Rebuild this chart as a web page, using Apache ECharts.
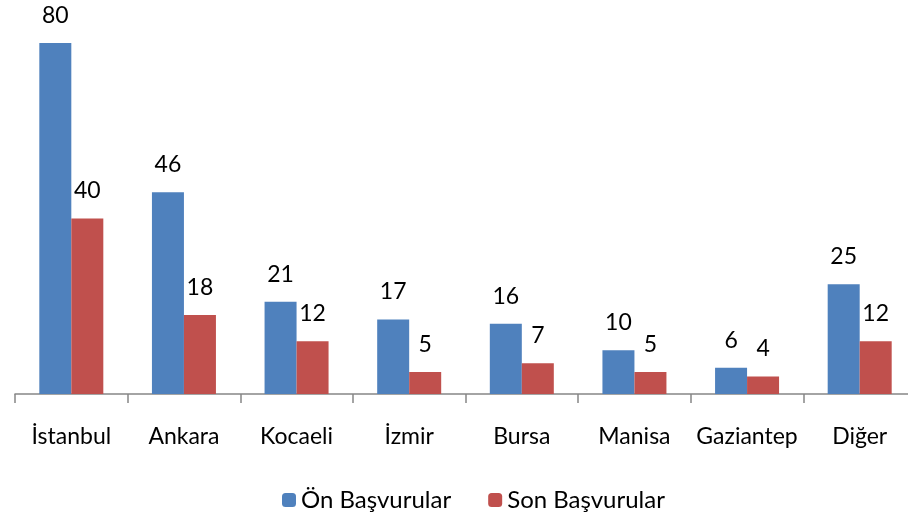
<!DOCTYPE html>
<html>
<head>
<meta charset="utf-8">
<script src="https://cdn.jsdelivr.net/npm/echarts@6/dist/echarts.min.js"></script>
<style>
  html, body { margin: 0; padding: 0; background: #fff; }
  #chart { width: 908px; height: 522px; }
</style>
</head>
<body>
<div id="chart"></div>
<script>
const cities = ['İstanbul', 'Ankara', 'Kocaeli', 'İzmir', 'Bursa', 'Manisa', 'Gaziantep', 'Diğer'];
const onBasvuru = [80, 46, 21, 17, 16, 10, 6, 25];
const sonBasvuru = [40, 18, 12, 5, 7, 5, 4, 12];

const chart = echarts.init(document.getElementById('chart'));
const font = 'Lato, "Open Sans", sans-serif';

const labelStyle = {
    show: true,
    position: 'top',
    distance: 16,
    color: '#000',
    fontSize: 23,
    fontFamily: font
};

chart.setOption({
    animation: false,
    grid: { left: 15, top: 43, width: 901, height: 351, outerBoundsMode: 'none' },
    legend: {
        bottom: 5,
        left: 277,
        itemWidth: 14,
        itemHeight: 14,
        itemGap: 37,
        textStyle: { fontSize: 24, fontFamily: font, color: '#000' },
        data: ['Ön Başvurular', 'Son Başvurular']
    },
    xAxis: {
        type: 'category',
        data: cities,
        axisLine: { show: true, lineStyle: { color: '#868686', width: 1.5 } },
        axisTick: { show: true, interval: 0, length: 9, lineStyle: { color: '#868686', width: 1.5 } },
        axisLabel: { interval: 0, margin: 31, fontSize: 23, fontFamily: font, color: '#000' }
    },
    yAxis: {
        type: 'value',
        min: 0,
        max: 80,
        show: false
    },
    series: [
        {
            name: 'Ön Başvurular',
            type: 'bar',
            data: onBasvuru,
            barWidth: 32,
            barGap: '0%',
            itemStyle: { color: '#4F81BD' },
            label: labelStyle
        },
        {
            name: 'Son Başvurular',
            type: 'bar',
            data: sonBasvuru,
            barWidth: 32,
            itemStyle: { color: '#C0504D' },
            label: labelStyle
        }
    ]
});
</script>
</body>
</html>
